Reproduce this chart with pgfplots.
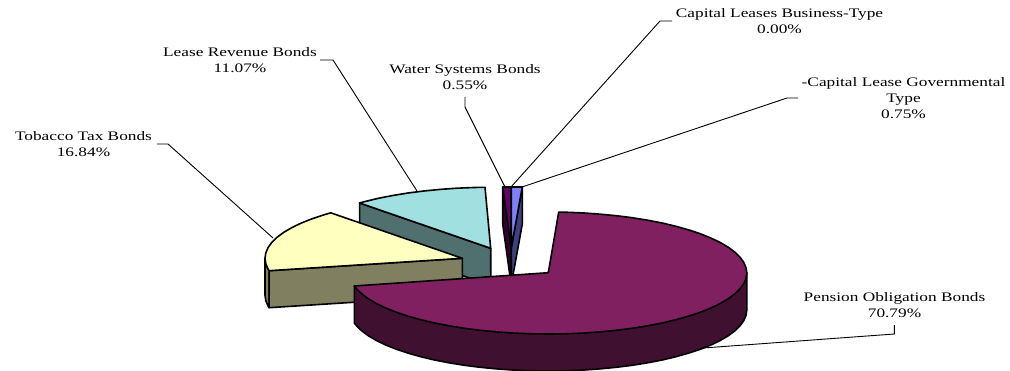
\documentclass[border=0pt]{standalone}
\usepackage{fontspec}
\setmainfont{Liberation Serif}
\usepackage{pgfplots}
\pgfplotsset{compat=1.18}

% pixel colours from the reference
\definecolor{purpletop}{HTML}{802060}
\definecolor{purpleside}{HTML}{401030}
\definecolor{yellowtop}{HTML}{FFFFC0}
\definecolor{yellowside}{HTML}{808060}
\definecolor{tealtop}{HTML}{A0E0E0}
\definecolor{tealside}{HTML}{507070}
\definecolor{violettop}{HTML}{660066}
\definecolor{violetside}{HTML}{330033}
\definecolor{bluetop}{HTML}{8080FF}
\definecolor{blueside}{HTML}{404080}

\tikzset{
    slice/.style={draw=black, line width=1.6bp},
    leader/.style={draw=black, line width=0.9bp},
    % the reference text is stretched sideways
    lab/.style={font=\fontsize{13bp}{16bp}\selectfont, align=center, inner sep=0pt, text=black, xscale=1.33},
}

\begin{document}
\begin{tikzpicture}
\begin{axis}[
    scale only axis,
    width=1010bp,
    height=370bp,
    xmin=0, xmax=1010,
    ymin=0, ymax=370,
    y dir=reverse,
    hide axis,
    clip=true,
    every axis plot/.append style={line join=round, no markers},
]
\path (axis cs:0,0) rectangle (axis cs:1010,370);

% leader lines
\addplot[leader] coordinates {(157,144) (168,144) (273,238)};
\addplot[leader] coordinates {(320,60) (333,60) (417,191)};
\addplot[leader] coordinates {(465,97) (465,107) (505,187)};
\addplot[leader] coordinates {(511,187) (660,21) (672,21)};
\addplot[leader] coordinates {(522,187) (787,98) (798,98)};
\addplot[leader] coordinates {(703,348) (894.3,334) (894.3,325)};

% Lease Revenue Bonds
\addplot[slice, fill=tealside] coordinates {(359.6,203) (490.7,248.3) (490.7,285.3) (359.6,240)} -- cycle;
\addplot[slice, fill=tealtop] coordinates {(490.7,248.3) (485,187.3) (473.6,187.5) (456.7,188.2) (440,189.4) (423.7,191) (407.9,193) (392.7,195.5) (378.3,198.3) (364.7,201.6) (359.6,203)} -- cycle;

% Tobacco Tax Bonds
\addplot[slice, fill=yellowside] coordinates {(265,258.3) (265.8,263.6) (268,268.9) (269.1,270.7) (269.1,307.7) (268,305.9) (265.8,300.6) (265,295.3)} -- cycle;
\addplot[slice, fill=yellowside] coordinates {(269.1,270.7) (462.3,258.3) (462.3,295.3) (269.1,307.7)} -- cycle;
\addplot[slice, fill=yellowtop] coordinates {(462.3,258.3) (330.7,212.8) (322.8,215.2) (311.2,219.1) (300.7,223.3) (291.4,227.8) (283.5,232.5) (276.9,237.4) (271.7,242.5) (268,247.7) (265.8,253) (265,258.3) (265.8,263.6) (268,268.9) (269.1,270.7)} -- cycle;

% Water Systems Bonds, Capital Leases, Capital Lease Governmental
\addplot[slice, fill=violetside] coordinates {(502.7,187) (511.2,248) (511.2,285) (502.7,224)} -- cycle;
\addplot[slice, fill=blueside] coordinates {(522.3,187) (522.3,224) (511.2,285) (511.2,248)} -- cycle;
\addplot[slice, fill=violettop] coordinates {(502.7,187) (511,187) (511.2,248)} -- cycle;
\addplot[slice, fill=bluetop] coordinates {(511.4,187) (522.3,187) (511.2,248)} -- cycle;

% Pension Obligation Bonds
\addplot[slice, fill=purpleside] coordinates {(746.8,273) (746.8,310) (746,315.3) (743.8,320.6) (740,325.8) (734.8,330.9) (728.2,335.8) (720.2,340.5) (710.9,345) (700.4,349.2) (688.7,353.1) (675.9,356.7) (662.2,360) (647.6,362.8) (632.2,365.3) (616.2,367.3) (599.7,368.9) (582.8,370.1) (565.6,370.8) (548.3,371) (531,370.8) (513.8,370.1) (496.9,368.9) (480.4,367.3) (464.4,365.3) (449.1,362.8) (434.4,360) (420.7,356.7) (407.9,353.1) (396.2,349.2) (385.7,345) (376.4,340.5) (368.4,335.8) (361.8,330.9) (356.6,325.8) (354.3,323) (354.3,286)} -- cycle;
\addplot[slice, fill=purpletop] coordinates {(548.3,272.7) (558.7,212.1) (565.6,212.2) (582.8,212.9) (599.7,214.1) (616.2,215.7) (632.2,217.7) (647.6,220.2) (662.2,223) (675.9,226.3) (688.7,229.9) (700.4,233.8) (710.9,238) (720.2,242.5) (728.2,247.2) (734.8,252.1) (740,257.2) (743.8,262.4) (746,267.7) (746.8,273) (746,278.3) (743.8,283.6) (740,288.8) (734.8,293.9) (728.2,298.8) (720.2,303.5) (710.9,308) (700.4,312.2) (688.7,316.1) (675.9,319.7) (662.2,323) (647.6,325.8) (632.2,328.3) (616.2,330.3) (599.7,331.9) (582.8,333.1) (565.6,333.8) (548.3,334) (531,333.8) (513.8,333.1) (496.9,331.9) (480.4,330.3) (464.4,328.3) (449.1,325.8) (434.4,323) (420.7,319.7) (407.9,316.1) (396.2,312.2) (385.7,308) (376.4,303.5) (368.4,298.8) (361.8,293.9) (356.6,288.8) (354.3,286)} -- cycle;

% labels
\node[lab] at (axis cs:83.5,144) {Tobacco Tax Bonds\\16.84\%};
\node[lab] at (axis cs:240,60) {Lease Revenue Bonds\\11.07\%};
\node[lab] at (axis cs:465,77) {Water Systems Bonds\\0.55\%};
\node[lab] at (axis cs:779.5,21.5) {Capital Leases Business-Type\\0.00\%};
\node[lab] at (axis cs:903.5,98.5) {-Capital Lease Governmental\\Type\\0.75\%};
\node[lab] at (axis cs:894.5,305) {Pension Obligation Bonds\\70.79\%};
\end{axis}
\end{tikzpicture}
\end{document}
